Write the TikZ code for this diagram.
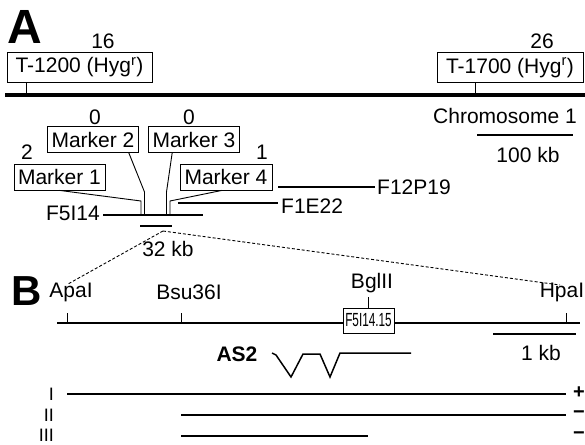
\documentclass[tikz,border=0pt]{standalone}
\usepackage{fontspec}
\setmainfont{Liberation Sans}
\usepackage{graphicx}
\begin{document}
\begin{tikzpicture}[x=1pt, y=-1pt,
    txt/.style={font=\fontsize{21}{23}\selectfont, inner sep=0pt},
    box/.style={txt, draw, line width=0.8pt, minimum height=#1, inner xsep=4pt},
    box/.default=26pt,
    panel/.style={font=\fontsize{#1}{#1}\selectfont\bfseries, inner sep=0pt},
    sign/.style={font=\fontsize{20}{20}\selectfont\bfseries, inner sep=0pt},
    rnum/.style={font=\fontsize{18}{18}\selectfont, inner sep=0pt, anchor=east},
    clone/.style={line width=1.6pt},
    bar/.style={line width=2pt},
    lead/.style={line width=0.9pt},
    zoomline/.style={line width=0.9pt, dash pattern=on 3pt off 2pt}
]
    \useasboundingbox (0,0) rectangle (585,444);

    % A: chromosome 1
    \node[panel=48] (lblA) at (25,27) {A};
    \coordinate (chrL) at (5,95);
    \coordinate (chrR) at (585,95);
    \draw[line width=4pt] (chrL) -- (chrR);

    % transgenes
    \node[box=30pt, minimum width=145pt] (t1200) at (79.5,67) {T-1200 (Hyg\textsuperscript{r})};
    \node[txt] (n16) at (103,41) {16};
    \draw[lead] ([xshift=20pt]t1200.south west) -- ++(0,11);
    \node[box=30pt, minimum width=146pt] (t1700) at (510,67.5) {T-1700 (Hyg\textsuperscript{r})};
    \node[txt] (n26) at (542,41) {26};
    \draw[lead] ([xshift=39pt]t1700.south west) -- ++(0,10);

    \node[txt] (chr) at (505,116) {Chromosome 1};
    \draw[bar] (477,135) coordinate (s100a) -- (573,135) coordinate (s100b);
    \node[txt] (kb100) at (528,155) {100 kb};

    % markers
    \node[box, minimum width=88pt] (mk2) at (93,139.5) {Marker 2};
    \node[box, minimum width=90pt] (mk3) at (194,139.5) {Marker 3};
    \node[box, minimum width=91pt] (mk1) at (59.5,177) {Marker 1};
    \node[box, minimum width=92pt] (mk4) at (226,177) {Marker 4};
    \node[txt] (c2) at (95,117) {0};
    \node[txt] (c3) at (189,117) {0};
    \node[txt] (c1) at (27,152) {2};
    \node[txt] (c4) at (262,152) {1};

    % BAC clones
    \node[txt, anchor=east] (f5) at (100,213) {F5I14};
    \draw[clone] (103,215) coordinate (f5a) -- (203,215) coordinate (f5b);
    \node[txt, anchor=west] (f1e) at (281,206) {F1E22};
    \draw[clone] (178,203) coordinate (f1a) -- (278,203) coordinate (f1b);
    \node[txt, anchor=west] (f12) at (377,187) {F12P19};
    \draw[clone] (278,187) coordinate (f12a) -- (375,187) coordinate (f12b);

    \coordinate (p1) at (141,215);
    \coordinate (p2) at (144.5,215);
    \coordinate (p3) at (166.5,215);
    \coordinate (p4) at (170,215);
    \draw[lead] (mk1.south) -- ([yshift=14pt]p1) -- (p1);
    \draw[lead] ([xshift=-10pt]mk2.south east) -- ([yshift=23pt]p2) -- (p2);
    \draw[lead] ([xshift=24pt]mk3.south west) -- ([yshift=23pt]p3) -- (p3);
    \draw[lead] ([xshift=-4pt]mk4.south) -- ([yshift=14pt]p4) -- (p4);

    % 32 kb
    \draw[clone] (140,226) coordinate (z1) -- (172,226) coordinate (z2);
    \node[txt] (kb32) at (168,249) {32 kb};
    \coordinate (zc) at (163,231);

    % B: F5I14 restriction map
    \node[panel=42] (lblB) at (27,291) {B};
    \draw[line width=1.5pt] (57,323) coordinate (mapL) -- (580,323) coordinate (mapR);
    \coordinate (apa) at (67,323);
    \coordinate (bsu) at (181,323);
    \coordinate (bgl) at (369,323);
    \coordinate (hpa) at (566,323);
    \node[txt] (tApa) at (71,292) {ApaI};
    \node[txt] (tBsu) at (189,292) {Bsu36I};
    \node[txt] (tBgl) at (372,283) {BglII};
    \node[txt] (tHpa) at (562,292) {HpaI};
    \draw[lead] (apa) -- ++(0,-10);
    \draw[lead] (bsu) -- ++(0,-10);
    \draw[lead] (hpa) -- ++(0,-10);
    \node[box=25pt, minimum width=51pt, fill=white, inner xsep=0pt] (gene) at (368.5,320.5)
        {\fontsize{19}{20}\selectfont\scalebox{0.62}[1]{F5I14.15}};
    \draw[lead] (gene.north) -- ++(0,-11);

    % zoom from clone to map
    \draw[zoomline] (zc) -- (68,284);
    \draw[zoomline] (zc) -- (560,285);

    \draw[bar] (493,334) coordinate (s1a) -- (576,334) coordinate (s1b);
    \node[txt] (kb1) at (541,353) {1 kb};

    % AS2 gene structure
    \node[txt, font=\fontsize{21}{23}\selectfont\bfseries] (as2) at (237,354) {AS2};
    \draw[line width=1.5pt, line join=miter] (272,353) -- (276,355) -- (291,377) -- (303,354)
        -- (320,354) -- (330,377) -- (340,353) -- (411,353);

    % transcripts
    \node[rnum] (r1) at (54,394) {I};
    \node[rnum] (r2) at (54,415) {II};
    \node[rnum] (r3) at (54,435) {III};
    \draw[line width=2.2pt] (67,394) -- (566,394);
    \draw[clone] (181,415) -- (566,415);
    \draw[clone] (181,436) -- (368,436);
    \node[sign] (s1) at (579,393) {+};
    \node[sign] (s2) at (579,415) {−};
    \node[sign] (s3) at (579,436) {−};
\end{tikzpicture}
\end{document}
